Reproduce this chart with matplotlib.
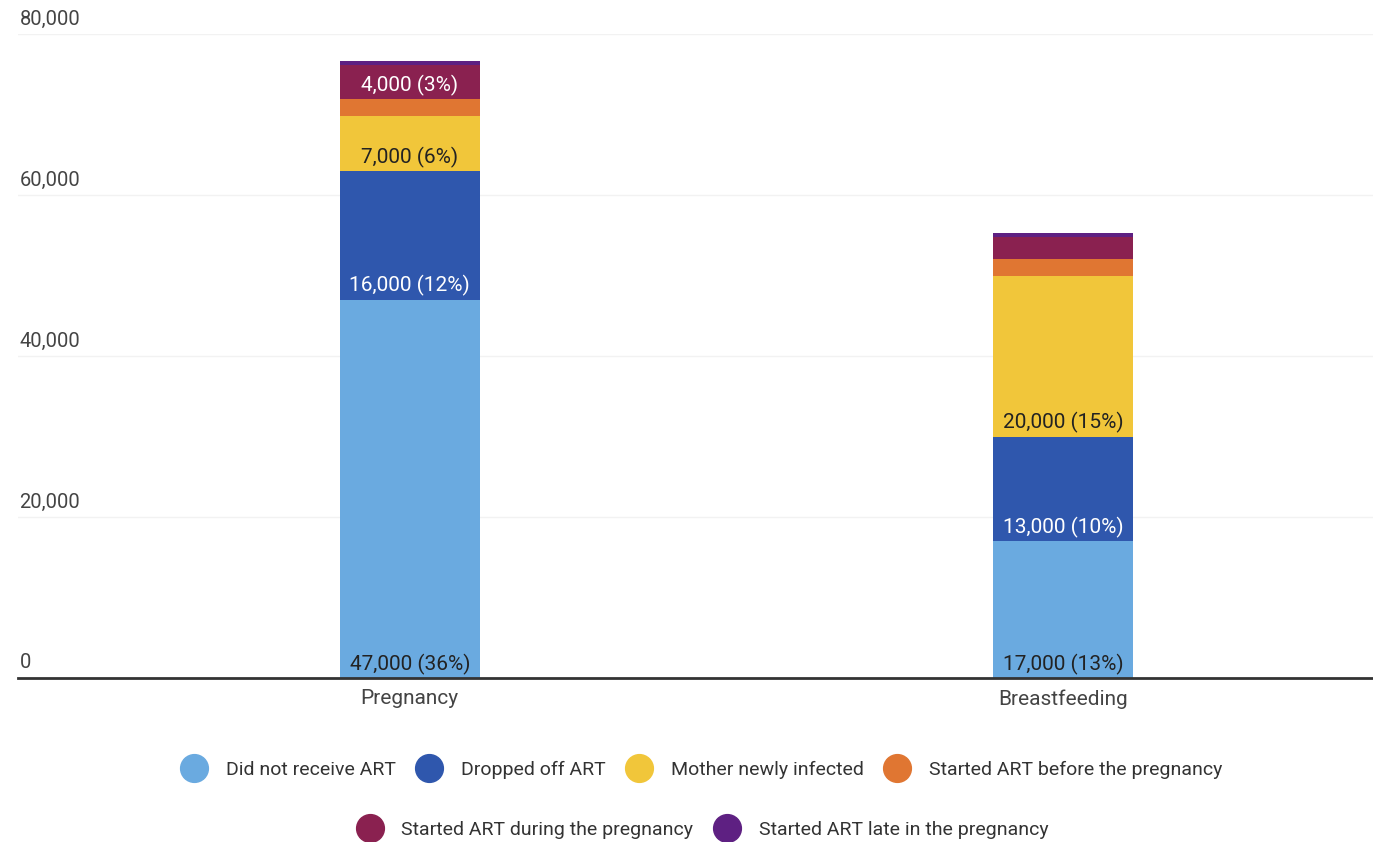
import matplotlib
matplotlib.use("Agg")
import matplotlib.pyplot as plt
from matplotlib.lines import Line2D
import numpy as np

plt.rcParams['font.family'] = ['Roboto', 'DejaVu Sans']

categories = ["Pregnancy", "Breastfeeding"]
series_names = ["Did not receive ART", "Dropped off ART", "Mother newly infected",
                "Started ART before the pregnancy", "Started ART during the pregnancy",
                "Started ART late in the pregnancy"]
did_not_receive = [47000, 17000]
dropped_off = [16000, 13000]
newly_infected = [6800, 19900]
started_before = [2100, 2200]
started_during = [4200, 2700]
started_late = [600, 500]
series_values = [did_not_receive, dropped_off, newly_infected,
                 started_before, started_during, started_late]
colors = ["#6aaae0", "#2f57ad", "#f1c63a", "#e07632", "#8a2150", "#5e2082"]
text_colors = ["#222222", "#ffffff", "#222222", "#222222", "#ffffff", "#ffffff"]
# segment labels (None = not shown)
seg_labels = [
    ["47,000 (36%)", "17,000 (13%)"],
    ["16,000 (12%)", "13,000 (10%)"],
    ["7,000 (6%)", "20,000 (15%)"],
    [None, None],
    ["4,000 (3%)", None],
    [None, None],
]
yticks = [0, 20000, 40000, 60000, 80000]

W, H = 1373, 842
fig = plt.figure(figsize=(W / 100, H / 100), dpi=100)
ax = fig.add_axes([18 / W, (H - 678) / H, (W - 18) / W, (678 - 34) / H])

x = np.arange(len(categories))
bottom = np.zeros(len(categories))
for vals, col, tcol, labs in zip(series_values, colors, text_colors, seg_labels):
    ax.bar(x, vals, width=0.214, bottom=bottom, color=col, zorder=2)
    for i in range(len(x)):
        if labs[i]:
            ax.annotate(labs[i], (x[i], bottom[i]), xytext=(0, 10), textcoords="offset points",
                        ha="center", va="center", color=tcol, fontsize=15, zorder=3)
    bottom += np.array(vals)

ax.set_xlim(-0.600, 1.475)
ax.set_ylim(0, 80000)
for s in ax.spines.values():
    s.set_visible(False)
ax.axhline(0, color="#333333", lw=2, zorder=4, clip_on=False)
for t in yticks[1:]:
    ax.axhline(t, color="#f2f2f2", lw=1, zorder=1)
ax.set_yticks([])
ax.set_xticks(x)
ax.set_xticklabels(categories, fontsize=15, color="#444444")
ax.tick_params(axis="x", length=0, pad=8)
for t in yticks:
    ax.annotate(f"{t:,}", (0, t), xycoords=("axes fraction", "data"), xytext=(1, 4),
                textcoords="offset points", ha="left", va="bottom", fontsize=14.5,
                color="#444444", annotation_clip=False)

handles = [Line2D([], [], marker="o", linestyle="none", markersize=20,
                  markerfacecolor=c, markeredgecolor=c) for c in colors]
fs_leg = 14
common = dict(frameon=False, fontsize=fs_leg, handlelength=1.25, handletextpad=1.0,
              columnspacing=1.1, labelcolor="#333333", loc="center")
fig.legend(handles[:4], series_names[:4], ncol=4,
           bbox_to_anchor=(702 / W, 1 - 770 / H), **common)
fig.legend(handles[4:], series_names[4:], ncol=2,
           bbox_to_anchor=(703 / W, 1 - 830 / H), **common)

fig.savefig("out.png", dpi=100, facecolor="white")
